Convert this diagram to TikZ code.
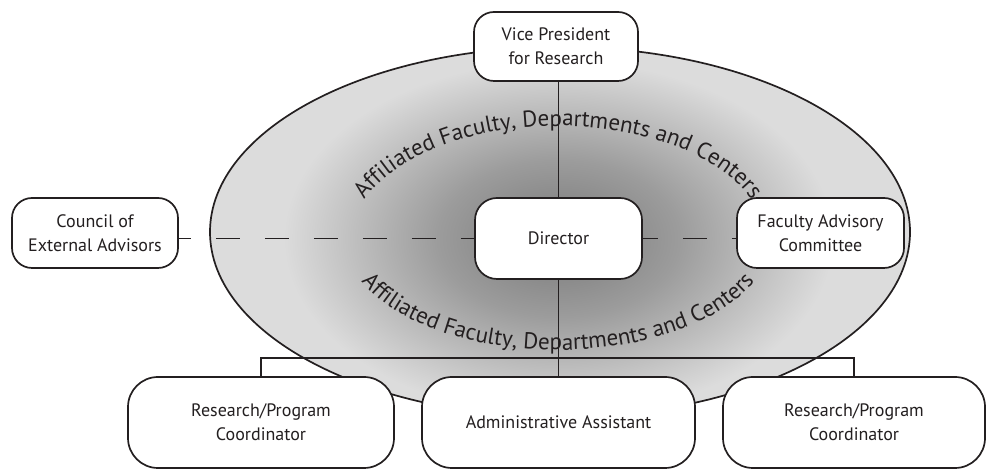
\documentclass[tikz,border=0pt]{standalone}
\usepackage{fontspec}
\setmainfont{PT Sans}
\usetikzlibrary{decorations.text}
\definecolor{fillgray}{HTML}{DCDCDC}
\definecolor{darkc}{HTML}{787878}
\definecolor{midc}{HTML}{9C9C9C}
\definecolor{ink}{HTML}{231F20}
\pgfdeclareradialshading{centreshade}{\pgfpoint{0bp}{0bp}}{color(0bp)=(darkc); color(11bp)=(midc); color(25bp)=(fillgray); color(50bp)=(fillgray)}
\begin{document}
\begin{tikzpicture}[x=1pt,y=1pt,
  box/.style={draw=ink, line width=1.7pt, fill=white, rounded corners=#1, align=center,
    text=ink, font=\fontsize{18}{24}\selectfont, inner sep=0pt},
  box/.default=20pt,
  conn/.style={draw=ink, line width=1.5pt},
  dashconn/.style={draw=ink, line width=1.6pt, dash pattern=on 24pt off 25pt},
  arctext/.style={decorate, decoration={text along path, text align=center,
    text color=ink, text={|\fontsize{23}{23}\selectfont|#1}}}
]
\useasboundingbox (0,0) rectangle (987,470);

% big ellipse with radial shading
\fill[fillgray] (560,238) ellipse [x radius=350, y radius=185];
\begin{scope}
  \clip (560,238) ellipse [x radius=350, y radius=185];
  \shade[shading=centreshade] (558.5,231.5) ellipse [x radius=275, y radius=178];
\end{scope}
\draw[ink, line width=1.7pt] (560,238) ellipse [x radius=350, y radius=185];

% curved labels
\path[arctext={Affiliated Faculty, Departments and Centers}]
  (558,228) ++(170:208 and 116) arc[start angle=170, end angle=10, x radius=208, y radius=116];
\path[arctext={Affiliated Faculty, Departments and Centers}]
  (558,232) ++(188:213 and 112) arc[start angle=188, end angle=352, x radius=213, y radius=112];

% nodes
\node[box, minimum width=164pt, minimum height=69pt] (vp) at (556,423.5) {Vice President\\for Research};
\node[box=22pt, minimum width=167pt, minimum height=81pt] (dir) at (558.5,231.5) {Director};
\node[box, minimum width=166pt, minimum height=70pt] (cea) at (95,237) {Council of\\External Advisors};
\node[box, minimum width=167pt, minimum height=70pt] (fac) at (820.5,237) {Faculty Advisory\\Committee};
\node[box=30pt, minimum width=266pt, minimum height=91pt] (r1) at (261,47.5) {Research/Program\\Coordinator};
\node[box=30pt, minimum width=273pt, minimum height=91pt] (adm) at (558.5,47.5) {Administrative Assistant};
\node[box=30pt, minimum width=262pt, minimum height=91pt] (r2) at (854,47.5) {Research/Program\\Coordinator};
\coordinate (bar) at (558.5,112);

% connectors
\draw[conn] (dir.north) -- (dir.north |- vp.south);
\draw[conn] (dir.south) -- (adm.north);
\draw[conn] (r1.north) |- (bar) -| (r2.north);
\draw[dashconn, dash phase=12pt] (cea.east |- dir.west) -- (dir.west);
\draw[dashconn, dash phase=9pt] (dir.east) -- (dir.east -| fac.west);
\end{tikzpicture}
\end{document}
